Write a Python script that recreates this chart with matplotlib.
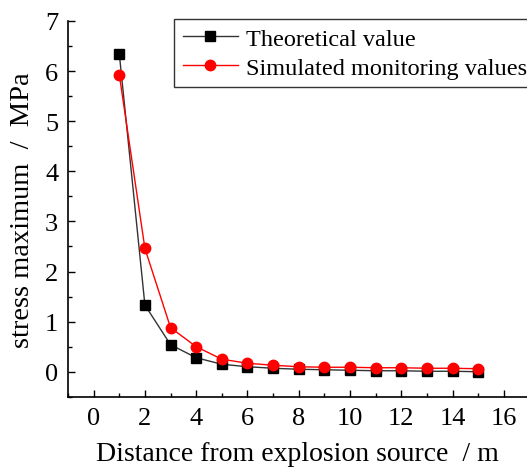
import matplotlib
matplotlib.use('Agg')
import matplotlib.pyplot as plt
from matplotlib.ticker import MultipleLocator

plt.rcParams['font.family'] = ['Liberation Serif', 'DejaVu Serif']

# data
distance = [1, 2, 3, 4, 5, 6, 7, 8, 9, 10, 11, 12, 13, 14, 15]
theoretical = [6.35, 1.33, 0.54, 0.28, 0.15, 0.10, 0.07, 0.05, 0.04, 0.03, 0.02, 0.02, 0.01, 0.01, 0.00]
simulated = [5.93, 2.46, 0.88, 0.50, 0.25, 0.17, 0.13, 0.10, 0.09, 0.09, 0.08, 0.08, 0.07, 0.07, 0.06]
xticks = [0, 2, 4, 6, 8, 10, 12, 14, 16]
yticks = [0, 1, 2, 3, 4, 5, 6, 7]

fig = plt.figure(figsize=(5.27, 4.77), dpi=100)
ax = fig.add_axes([0.129, 0.166, 0.871, 0.788])

ax.plot(distance, theoretical, color='#333333', lw=1, marker='s', ms=7,
        mfc='black', mec='black', label='Theoretical value')
ax.plot(distance, simulated, color='red', lw=1, marker='o', ms=7.5,
        mfc='red', mec='red', label='Simulated monitoring values')

ax.set_xlim(-1, 16.9)
ax.set_ylim(-0.5, 7)
ax.set_xticks(xticks)
ax.set_yticks(yticks)
ax.xaxis.set_minor_locator(MultipleLocator(1))
ax.yaxis.set_minor_locator(MultipleLocator(0.5))
ax.tick_params(which='major', direction='in', length=5, width=1, labelsize=19, pad=7)
ax.tick_params(which='minor', direction='in', length=3, width=1)

ax.spines['top'].set_visible(False)
ax.spines['right'].set_visible(False)
ax.spines['left'].set_linewidth(1.2)
ax.spines['bottom'].set_linewidth(1.2)

ax.set_xlabel('Distance from explosion source  / m', fontsize=20, labelpad=9)
ax.set_ylabel('stress maximum  /  MPa', fontsize=20.5, labelpad=7)

leg = ax.legend(loc='upper left', bbox_to_anchor=(174 / 527, 1 - 20 / 477),
                bbox_transform=fig.transFigure, fontsize=17.5, frameon=True,
                fancybox=False, edgecolor='black', borderpad=0.35,
                handlelength=2.3, handletextpad=0.3, labelspacing=0.3,
                borderaxespad=0)
leg.get_frame().set_linewidth(1)

plt.savefig('out.png', dpi=100)
